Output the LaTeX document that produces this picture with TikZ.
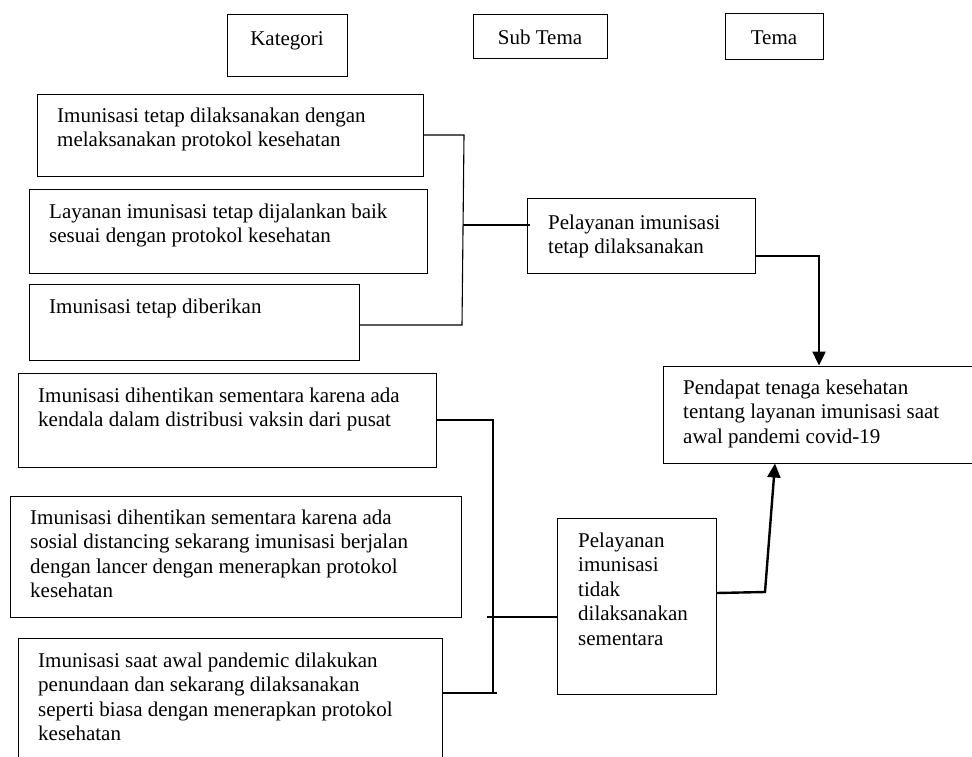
\documentclass[tikz,border=0pt]{standalone}
\usepackage{fontspec}
\setmainfont{Liberation Serif}
\usetikzlibrary{fit,arrows.meta}
\newcommand\mlines[1]{\begin{tabular}[t]{@{}l@{}}#1\end{tabular}}
\begin{document}
\begin{tikzpicture}[x=1pt,y=-1pt,
  box/.style={draw, line width=1pt, inner sep=0pt},
  txt/.style={inner sep=0pt, font=\fontsize{21}{24.5}\selectfont},
  conn/.style={line width=1.1pt},
  arr/.style={line width=2.4pt, -{Triangle[length=14pt,width=13pt]}}]
\useasboundingbox (0,0) rectangle (972,756);
% corner coordinates
\coordinate (kat1) at (227,14); \coordinate (kat2) at (347,76);
\coordinate (st1) at (473,14);  \coordinate (st2) at (607,58);
\coordinate (tm1) at (725,13);  \coordinate (tm2) at (823,59);
\coordinate (a1p) at (37,94);   \coordinate (a1q) at (423,176);
\coordinate (a2p) at (29,189);  \coordinate (a2q) at (427,273);
\coordinate (a3p) at (29,284);  \coordinate (a3q) at (359,360);
\coordinate (b1p) at (18,373);  \coordinate (b1q) at (436,467);
\coordinate (b2p) at (10,496);  \coordinate (b2q) at (461,617);
\coordinate (b3p) at (18,638);  \coordinate (b3q) at (442,775);
\coordinate (s1p) at (527,198); \coordinate (s1q) at (755,273);
\coordinate (s2p) at (557,518); \coordinate (s2q) at (716,694);
\coordinate (mp) at (663,366);  \coordinate (mq) at (995,463);
% boxes
\node[box, fit=(kat1)(kat2)] (kat) {};
\node[box, fit=(st1)(st2)] (st) {};
\node[box, fit=(tm1)(tm2)] (tm) {};
\node[box, fit=(a1p)(a1q)] (a1) {};
\node[box, fit=(a2p)(a2q)] (a2) {};
\node[box, fit=(a3p)(a3q)] (a3) {};
\node[box, fit=(b1p)(b1q)] (b1) {};
\node[box, fit=(b2p)(b2q)] (b2) {};
\node[box, fit=(b3p)(b3q)] (b3) {};
\node[box, fit=(s1p)(s1q)] (s1) {};
\node[box, fit=(s2p)(s2q)] (s2) {};
\node[box, fit=(mp)(mq)] (m) {};
% texts
\node[txt, anchor=base] (katt) at (287,45) {Kategori};
\node[txt, anchor=base] (stt) at (540,44) {Sub Tema};
\node[txt, anchor=base] (tmt) at (774,44) {Tema};
\node[txt, anchor=base west] (a1t) at (57,122) {\mlines{Imunisasi tetap dilaksanakan dengan\\melaksanakan protokol kesehatan}};
\node[txt, anchor=base west] (a2t) at (49,218) {\mlines{Layanan imunisasi tetap dijalankan baik\\sesuai dengan protokol kesehatan}};
\node[txt, anchor=base west] (a3t) at (49,313) {Imunisasi tetap diberikan};
\node[txt, anchor=base west] (b1t) at (38,402) {\mlines{Imunisasi dihentikan sementara karena ada\\kendala dalam distribusi vaksin dari pusat}};
\node[txt, anchor=base west] (b2t) at (30,524) {\mlines{Imunisasi dihentikan sementara karena ada\\sosial distancing sekarang imunisasi berjalan\\dengan lancer dengan menerapkan protokol\\kesehatan}};
\node[txt, anchor=base west] (b3t) at (38,667) {\mlines{Imunisasi saat awal pandemic dilakukan\\penundaan dan sekarang dilaksanakan\\seperti biasa dengan menerapkan protokol\\kesehatan}};
\node[txt, anchor=base west] (s1t) at (548,229) {\mlines{Pelayanan imunisasi\\tetap dilaksanakan}};
\node[txt, anchor=base west] (s2t) at (578,547) {\mlines{Pelayanan\\imunisasi\\tidak\\dilaksanakan\\sementara}};
\node[txt, anchor=base west] (mt) at (683,394) {\mlines{Pendapat tenaga kesehatan\\tentang layanan imunisasi saat\\awal pandemi covid-19}};
% bracket A
\coordinate (jA1) at (464,135);
\coordinate (jA3) at (462,325);
\coordinate (jAm) at (462.5,225);
\coordinate (jAe) at (530,225);
\draw[conn] (a1.east |- jA1) -- (jA1) -- (jA3) -- (a3.east |- jA3);
\draw[conn] (jAm) -- (jAe);
% bracket B
\coordinate (jB1) at (493,420);
\coordinate (jB3) at (493,693);
\coordinate (jB3e) at (497,693);
\coordinate (jBm) at (487,617);
\draw[conn] (b1.east |- jB1) -- (jB1) -- (jB3);
\draw[conn] (b3.east |- jB3) -- (jB3e);
\draw[conn] (jBm) -- (s2.west |- jBm);
% arrows to main theme
\coordinate (k1) at (819,256);
\draw[arr] (s1.east |- k1) -- (k1) -- (k1 |- m.north);
\coordinate (k2) at (765,592);
\coordinate (k3) at (775,0);
\draw[arr] (s2.east |- 0,593) -- (k2) -- (m.south -| k3);
\end{tikzpicture}
\end{document}
